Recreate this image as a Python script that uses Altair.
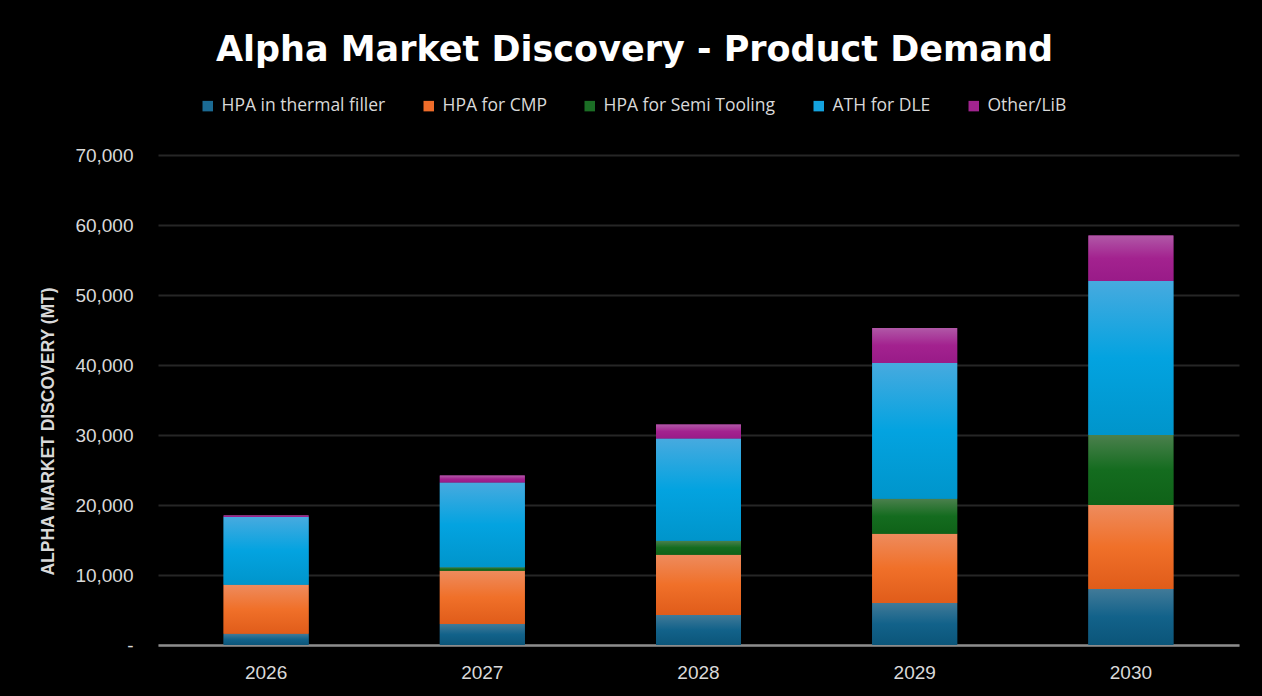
import altair as alt
import pandas as pd

years = ["2026", "2027", "2028", "2029", "2030"]
series = ["HPA in thermal filler", "HPA for CMP", "HPA for Semi Tooling", "ATH for DLE", "Other/LiB"]
thermal = [1600, 3000, 4300, 6000, 8000]
cmp_ = [7000, 7600, 8600, 9900, 12000]
semi = [0, 500, 2000, 5000, 10000]
dle = [9700, 12100, 14600, 19400, 22000]
other = [200, 1000, 2000, 5000, 6500]

legend_colors = ["#1b6a93", "#ee6c2a", "#1b6e25", "#14a3df", "#a1248f"]
grad_stops = [
    ["#417a98", "#12628a", "#0b5579"],
    ["#ee8b5d", "#f07029", "#e05c1a"],
    ["#4b804d", "#146c1f", "#0f6218"],
    ["#47aadf", "#03a3e0", "#0095cb"],
    ["#b058a7", "#a3228f", "#991b88"],
]

rows = []
for si, (name, vals) in enumerate(zip(series, [thermal, cmp_, semi, dle, other])):
    for y, v in zip(years, vals):
        rows.append({"year": y, "series": name, "idx": si, "value": v})
df = pd.DataFrame(rows)

x_enc = alt.X(
    "year:N",
    title=None,
    scale=alt.Scale(paddingInner=0.607, paddingOuter=0.3035),
    axis=alt.Axis(
        labelAngle=0, labelFont="Liberation Sans", labelFontSize=19, labelColor="#d9d9d9",
        labelPadding=18, ticks=False, domainColor="#8c8c8c", domainWidth=2.5, grid=False,
    ),
)

y_axis = alt.Axis(
    values=[0, 10000, 20000, 30000, 40000, 50000, 60000, 70000],
    labelExpr="datum.value == 0 ? '-\u00a0\u00a0\u00a0' : format(datum.value, ',')",
    labelFont="Liberation Sans", labelFontSize=19, labelColor="#d9d9d9", labelPadding=25,
    ticks=False, domain=False, gridColor="#262626", gridWidth=2,
    title="ALPHA MARKET DISCOVERY  (MT)", titleFont="Liberation Sans", titleFontSize=17.5,
    titleFontWeight="bold", titleColor="#d9d9d9", titleAngle=-90, titleX=-110, titleY=276,
    titleAlign="center", titleBaseline="middle",
)

base = alt.Chart(df).mark_bar().encode(
    x=x_enc,
    y=alt.Y("sum(value):Q", stack="zero", axis=y_axis, scale=alt.Scale(domain=[0, 70000], nice=False)),
    color=alt.Color(
        "series:N",
        scale=alt.Scale(domain=series, range=legend_colors),
        legend=alt.Legend(
            title=None, orient="none", direction="horizontal", legendX=41, legendY=-58,
            symbolType="square", symbolSize=110, symbolStrokeWidth=0,
            labelFont="Open Sans", labelFontSize=17.5, labelColor="#d9d9d9", labelLimit=0,
            columnPadding=34, labelOffset=5,
        ),
    ),
    order=alt.Order("idx:Q", sort="ascending"),
)

layers = [base]
for si, name in enumerate(series):
    g = alt.Gradient(
        gradient="linear", x1=0, x2=0, y1=0, y2=1,
        stops=[
            alt.GradientStop(offset=0, color=grad_stops[si][0]),
            alt.GradientStop(offset=0.5, color=grad_stops[si][1]),
            alt.GradientStop(offset=1, color=grad_stops[si][2]),
        ],
    )
    lay = (
        alt.Chart(df)
        .transform_stack(stack="value", groupby=["year"], as_=["y0", "y1"],
                         sort=[alt.SortField("idx", order="ascending")])
        .transform_filter(alt.datum.series == name)
        .transform_filter(alt.datum.value > 0)
        .mark_bar(color=g)
        .encode(x=alt.X("year:N"), y=alt.Y("y0:Q"), y2="y1:Q")
    )
    layers.append(lay)

chart = (
    alt.layer(*layers)
    .properties(
        width=1081, height=490,
        autosize=alt.AutoSizeParams(type="none"),
        padding={"left": 158, "top": 155, "right": 23, "bottom": 51},
        background="#000000",
        title=alt.TitleParams(
            "Alpha Market Discovery - Product Demand", font="DejaVu Sans", fontSize=35,
            fontWeight="bold", color="#ffffff", anchor="middle", frame="group", dx=-64, offset=29,
        ),
    )
    .configure_view(stroke=None)
)

chart.save("out.html", embed_options={"renderer": "svg", "actions": False})
